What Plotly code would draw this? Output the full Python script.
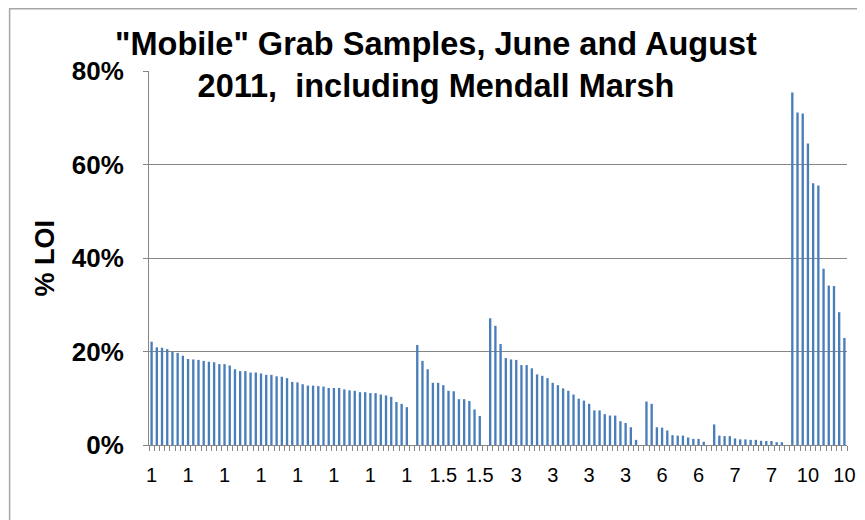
import plotly.graph_objects as go

# Depth groups (category label shown under the axis) and % LOI values per sample
depth_labels = ["1", "1.5", "3", "6", "7", "10"]

loi_depth_1 = [22.1, 20.9, 20.8, 20.5, 19.9, 19.7, 19.1, 18.4, 18.3, 18.2,
               18.0, 17.8, 17.7, 17.3, 17.3, 17.0, 16.2, 15.8, 15.8, 15.5,
               15.5, 15.3, 15.0, 15.0, 14.7, 14.6, 14.3, 13.5, 13.4, 13.0,
               12.7, 12.7, 12.6, 12.5, 12.2, 12.2, 12.2, 11.9, 11.7, 11.6,
               11.3, 11.3, 11.1, 11.1, 10.8, 10.6, 10.3, 9.2, 8.8, 8.1]
loi_depth_1_5 = [21.4, 18.0, 16.2, 13.3, 13.3, 12.8, 11.6, 11.5, 9.8, 9.8, 9.4, 7.6, 6.2]
loi_depth_3 = [27.1, 25.5, 21.6, 18.6, 18.3, 18.2, 17.1, 17.1, 16.4, 15.1,
               14.8, 14.3, 13.3, 12.8, 12.1, 11.6, 10.8, 9.9, 9.5, 8.8,
               7.4, 7.4, 6.6, 6.3, 6.3, 5.1, 4.7, 3.8, 1.1]
loi_depth_6 = [9.3, 8.8, 3.8, 3.7, 3.1, 2.1, 2.0, 2.0, 1.6, 1.3, 1.3, 0.7]
loi_depth_7 = [4.4, 2.0, 1.9, 1.9, 1.4, 1.2, 1.2, 1.1, 1.1, 0.9, 0.85, 0.85, 0.6, 0.6]
loi_depth_10 = [75.4, 71.1, 70.9, 64.5, 56.0, 55.5, 37.7, 34.1, 34.0, 28.4, 22.9]

y_ticks = [0, 20, 40, 60, 80]
y_tick_text = ["0%", "20%", "40%", "60%", "80%"]
label_every = 7

groups = [loi_depth_1, loi_depth_1_5, loi_depth_3, loi_depth_6, loi_depth_7, loi_depth_10]

# build the category sequence (an empty category separates each depth group)
categories = []
values = []
for gi, (lab, vals) in enumerate(zip(depth_labels, groups)):
    if gi > 0:
        categories.append("")
        values.append(None)
    categories.extend([lab] * len(vals))
    values.extend(vals)

n = len(values)
xs = list(range(n))
tickvals = list(range(0, n, label_every))
ticktext = [categories[i] for i in tickvals]

GRAY = "#868686"
FONT = "Liberation Sans, Arial, sans-serif"

fig = go.Figure()
fig.add_trace(go.Bar(
    x=xs, y=values, width=0.45,
    marker=dict(color="#4A7EBB", line=dict(width=0)),
    hoverinfo="y",
))

W, H = 865, 520
OFF = 8  # page body margin offset
L = 149.4 - OFF
R = W - (847.5 - OFF)
T = 71 - OFF
B = H - (445 - OFF)
pw = W - L - R
ph = H - T - B

fig.update_layout(
    width=W, height=H,
    margin=dict(l=L, r=R, t=T, b=B, pad=0),
    paper_bgcolor="white", plot_bgcolor="white",
    showlegend=False,
    font=dict(family=FONT, color="black"),
    title=dict(
        text='"Mobile" Grab Samples, June and August<br>2011, &nbsp;including Mendall Marsh',
        x=(436 - OFF) / W, xanchor="center", xref="container",
        y=1 - 47 / H, yanchor="top", yref="container",
        font=dict(family=FONT, size=32.5, color="black", weight="bold"),
    ),
    xaxis=dict(
        range=[-0.5, n - 0.5],
        tickmode="array", tickvals=tickvals, ticktext=ticktext,
        ticks="", showgrid=False, zeroline=False,
        showline=True, linecolor=GRAY, linewidth=1,
        tickfont=dict(family=FONT, size=20, color="black"),
        ticklabelstandoff=12,
        minor=dict(tickmode="array", tickvals=[i - 0.5 for i in range(n + 1)],
                   ticks="outside", ticklen=5, tickcolor=GRAY, tickwidth=1, showgrid=False),
    ),
    yaxis=dict(
        range=[0, 80],
        tickmode="array", tickvals=y_ticks, ticktext=y_tick_text,
        ticks="outside", ticklen=5, tickcolor=GRAY,
        showgrid=True, gridcolor=GRAY, gridwidth=1,
        zeroline=False, showline=True, linecolor=GRAY, linewidth=1,
        tickfont=dict(family=FONT, size=26, color="black", weight="bold"),
        ticklabelstandoff=14,
    ),
    annotations=[dict(
        text="% LOI", textangle=-90, showarrow=False,
        xref="paper", yref="paper", x=(45 - OFF - L) / pw, y=0.5,
        xanchor="center", yanchor="middle",
        font=dict(family=FONT, size=27, color="black", weight="bold"),
    )],
    shapes=[dict(
        type="rect", xref="paper", yref="paper",
        x0=(10 - OFF - L) / pw, x1=(W + 20 - L) / pw,
        y0=(H - B - (H + 20)) / ph, y1=(H - B - 0.75) / ph,
        line=dict(color="#A6A6A6", width=1.5), fillcolor="rgba(0,0,0,0)",
        layer="below",
    )],
)

fig.write_html("out.html")
